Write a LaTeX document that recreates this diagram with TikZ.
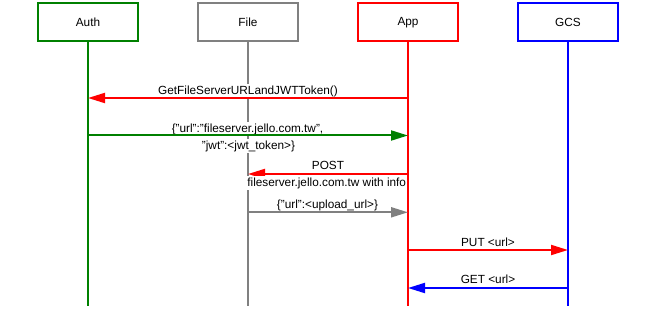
\documentclass[tikz,border=0pt]{standalone}
\usepackage{fontspec}
\setmainfont{Liberation Sans}
\usetikzlibrary{arrows.meta}
\definecolor{cgreen}{RGB}{0,128,0}
\definecolor{cgray}{RGB}{128,128,128}
\definecolor{cred}{RGB}{255,0,0}
\definecolor{cblue}{RGB}{0,0,255}
\begin{document}
\begin{tikzpicture}[x=1pt,y=-1pt,
  actorbox/.style={draw, line width=2pt, minimum width=100pt, minimum height=37.5pt, inner sep=0pt, font=\fontsize{11.8}{14}\selectfont},
  lifeline/.style={line width=2pt},
  msg/.style={line width=2pt, -{Triangle[length=17pt,width=10pt]}},
  msglabel/.style={fill=white, anchor=base, inner xsep=0.5pt, inner ysep=1.5pt, text height=9pt, text depth=2.5pt, font=\fontsize{11.8}{14}\selectfont}
]
\useasboundingbox (0,0) rectangle (656,310);
% actors
\node[actorbox, draw=cgreen] (auth) at (88,22.25) {Auth};
\node[actorbox, draw=cgray]  (file) at (248,22.25) {File};
\node[actorbox, draw=cred]   (app)  at (408,22.25) {App};
\node[actorbox, draw=cblue]  (gcs)  at (568,22.25) {GCS};
% lifeline ends
\coordinate (authend) at (88,306);
\coordinate (fileend) at (248,306);
\coordinate (append)  at (408,306);
\coordinate (gcsend)  at (568,306);
\draw[lifeline, cgreen] (auth.south) -- (authend);
\draw[lifeline, cgray]  (file.south) -- (fileend);
\draw[lifeline, cred]   (app.south)  -- (append);
\draw[lifeline, cblue]  (gcs.south)  -- (gcsend);
% message end points
\coordinate (m1s) at (408,98);    \coordinate (m1e) at (88,98);
\coordinate (m2s) at (88,135.5);  \coordinate (m2e) at (408,135.5);
\coordinate (m3s) at (408,174);   \coordinate (m3e) at (248,174);
\coordinate (m4s) at (248,212.3); \coordinate (m4e) at (408,212.3);
\coordinate (m5s) at (408,250);   \coordinate (m5e) at (568,250);
\coordinate (m6s) at (568,288);   \coordinate (m6e) at (408,288);
% labels (behind arrows)
\node[msglabel] (l1)  at (248,94.5)  {GetFileServerURLandJWTToken()};
\node[msglabel] (l2a) at (247.5,132.3) {\{"url":"fileserver.jello.com.tw",};
\node[msglabel] (l2b) at (248.5,149.3) {"jwt":<jwt\_token>\}};
\node[msglabel] (l3a) at (328,170)   {POST};
\node[msglabel] (l4)  at (327.5,208.3) {\{"url":<upload\_url>\}};
\node[msglabel] (l5)  at (488,246)   {PUT <url>};
\node[msglabel] (l6)  at (488,283.6) {GET <url>};
% arrows
\draw[msg, cred]   (m1s) -- (m1e);
\draw[msg, cgreen] (m2s) -- (m2e);
\draw[msg, cred]   (m3s) -- (m3e);
\draw[msg, cgray]  (m4s) -- (m4e);
\draw[msg, cred]   (m5s) -- (m5e);
\draw[msg, cblue]  (m6s) -- (m6e);
% label drawn over its arrow head
\node[msglabel] (l3b) at (326.7,186.3) {fileserver.jello.com.tw with info};
\end{tikzpicture}
\end{document}
